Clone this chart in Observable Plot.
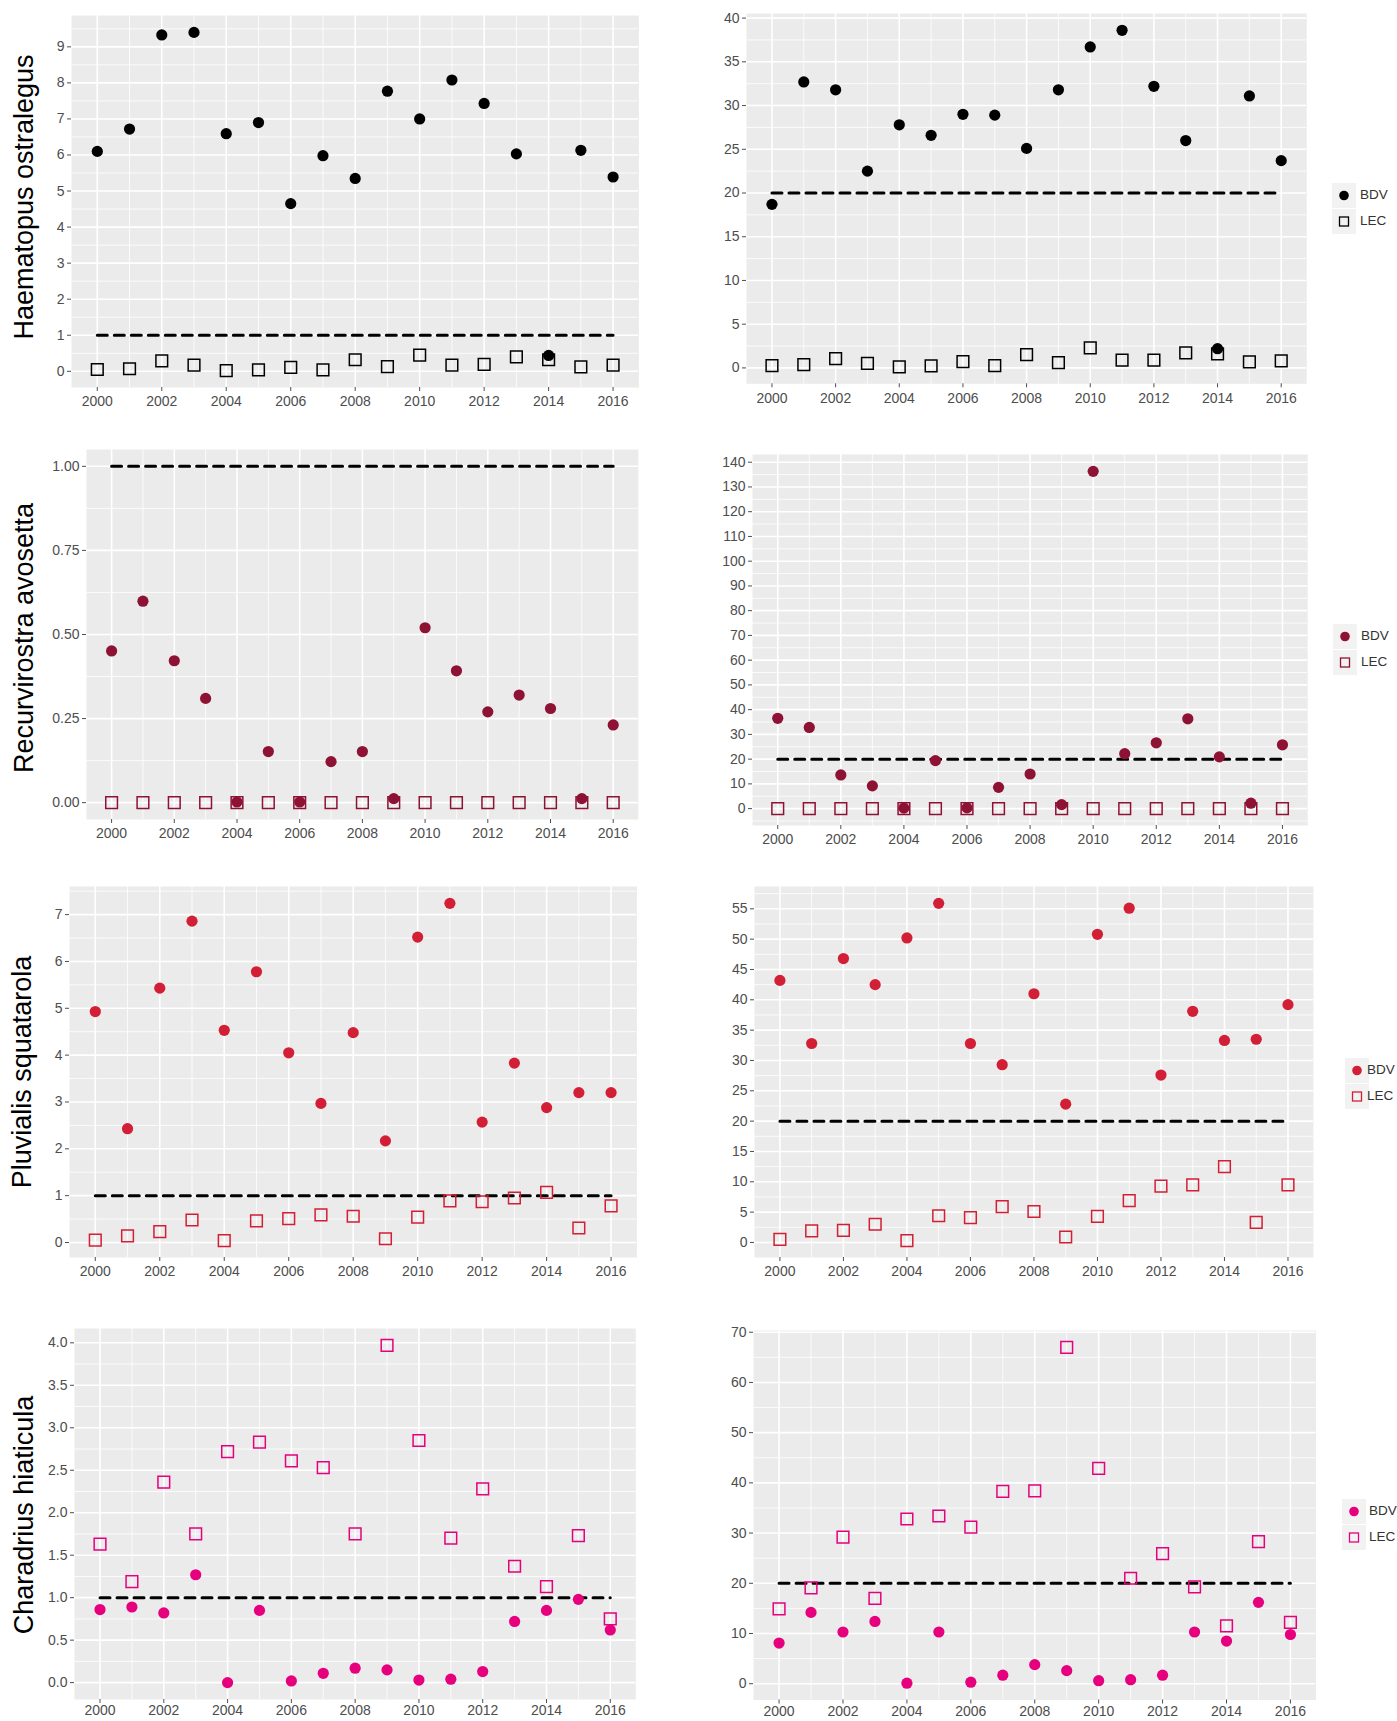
<!DOCTYPE html>
<html><head><meta charset="utf-8">
<script src="https://cdn.jsdelivr.net/npm/d3@7"></script>
<script src="https://cdn.jsdelivr.net/npm/@observablehq/plot@0.6"></script>
<style>
body{margin:0;background:#fff;font-family:"Liberation Sans",Arial,sans-serif;}
#root{position:relative;width:1397px;height:1721px;overflow:hidden;background:#fff;}
.panel{position:absolute;}
.species{position:absolute;transform:translate(-50%,-50%) rotate(-90deg);font-size:27px;color:#000;white-space:nowrap;line-height:1;}
.lgkey{position:absolute;width:24px;height:25px;background:#F2F2F2;}
.lgtext{position:absolute;font-size:13.5px;color:#333;line-height:1;transform:translateY(-50%);}
</style></head><body><div id="root"></div>
<script>
// ---- data ----
const years = [2000,2001,2002,2003,2004,2005,2006,2007,2008,2009,2010,2011,2012,2013,2014,2015,2016];
const xTickYears = [2000,2002,2004,2006,2008,2010,2012,2014,2016];
const species = ["Haematopus ostralegus","Recurvirostra avosetta","Pluvialis squatarola","Charadrius hiaticula"];
const seriesNames = ["BDV","LEC"];
const leftThreshold = 1;
const rightThreshold = 20;

const haematopusBDVLeft  = [6.10,6.72,9.33,9.40,6.59,6.90,4.65,5.98,5.35,7.77,7.00,8.08,7.43,6.03,0.44,6.13,5.39];
const haematopusLECLeft  = [0.05,0.07,0.29,0.17,0.02,0.04,0.11,0.04,0.32,0.13,0.45,0.17,0.19,0.40,0.32,0.12,0.17];
const haematopusBDVRight = [18.7,32.7,31.8,22.5,27.8,26.6,29.0,28.9,25.1,31.8,36.7,38.6,32.2,26.0,2.2,31.1,23.7];
const haematopusLECRight = [0.27,0.38,1.07,0.53,0.11,0.23,0.72,0.27,1.52,0.61,2.29,0.88,0.88,1.71,1.6,0.69,0.80];

const recurvirostraBDVLeft  = [0.451,0.599,0.422,0.310,0.002,0.152,0.002,0.122,0.152,0.012,0.520,0.392,0.270,0.320,0.280,0.012,0.231];
const recurvirostraLECLeft  = [0,0,0,0,0,0,0,0,0,0,0,0,0,0,0,0,0];
const recurvirostraBDVRight = [36.5,32.8,13.6,9.2,0.2,19.4,0.3,8.6,14.0,1.6,136.3,22.2,26.6,36.3,20.9,2.2,25.8];
const recurvirostraLECRight = [0,0,0,0,0,0,0,0,0,0,0,0,0,0,0,0,0];

const pluvialisBDVLeft  = [4.93,2.43,5.43,6.86,4.53,5.78,4.05,2.97,4.48,2.17,6.52,7.24,2.57,3.83,2.88,3.20,3.20];
const pluvialisLECLeft  = [0.05,0.14,0.23,0.48,0.04,0.46,0.51,0.59,0.56,0.08,0.54,0.89,0.87,0.95,1.07,0.31,0.78];
const pluvialisBDVRight = [43.2,32.8,46.8,42.5,50.2,55.9,32.8,29.3,41.0,22.8,50.8,55.1,27.6,38.1,33.3,33.5,39.2];
const pluvialisLECRight = [0.5,1.9,2.0,3.0,0.3,4.4,4.1,5.9,5.1,0.9,4.3,6.9,9.3,9.5,12.5,3.3,9.5];

const charadriusBDVLeft  = [0.86,0.89,0.82,1.27,0.00,0.85,0.02,0.11,0.17,0.15,0.03,0.04,0.13,0.72,0.85,0.98,0.62];
const charadriusLECLeft  = [1.63,1.19,2.36,1.75,2.72,2.83,2.61,2.53,1.75,3.97,2.85,1.70,2.28,1.37,1.13,1.73,0.75];
const charadriusBDVRight = [8.1,14.2,10.3,12.4,0.1,10.3,0.3,1.7,3.8,2.6,0.6,0.8,1.7,10.3,8.5,16.2,9.8];
const charadriusLECRight = [14.9,19.1,29.2,17.0,32.8,33.4,31.2,38.3,38.4,67.0,42.9,21.0,25.9,19.3,11.5,28.3,12.2];

const yTicks1L = [0,1,2,3,4,5,6,7,8,9];
const yTicks1R = [0,5,10,15,20,25,30,35,40];
const yTicks2L = [0,0.25,0.5,0.75,1];
const yTicks2R = [0,10,20,30,40,50,60,70,80,90,100,110,120,130,140];
const yTicks3L = [0,1,2,3,4,5,6,7];
const yTicks3R = [0,5,10,15,20,25,30,35,40,45,50,55];
const yTicks4L = [0,0.5,1,1.5,2,2.5,3,3.5,4];
const yTicks4R = [0,10,20,30,40,50,60,70];

const rowColors = ["#000000","#8E1234","#D31F35","#E6007E"];

// ---- layout ----
const fmtInt = d => String(d);
const panels = [
  {bdv:haematopusBDVLeft, lec:haematopusLECLeft, t:leftThreshold, ticks:yTicks1L, fmt:fmtInt, color:rowColors[0], box:[70.8,638.2,15,387], xpad:5},
  {bdv:haematopusBDVRight, lec:haematopusLECRight, t:rightThreshold, ticks:yTicks1R, fmt:fmtInt, color:rowColors[0], box:[746,1306.2,12.7,383], legend:[1332,195,1360], xpad:5},
  {bdv:recurvirostraBDVLeft, lec:recurvirostraLECLeft, t:leftThreshold, ticks:yTicks2L, fmt:d3.format(".2f"), color:rowColors[1], box:[85.7,637.5,449,819], xpad:5},
  {bdv:recurvirostraBDVRight, lec:recurvirostraLECRight, t:rightThreshold, ticks:yTicks2R, fmt:fmtInt, color:rowColors[1], box:[751.8,1307,454,825], legend:[1333,636,1361], xpad:5},
  {bdv:pluvialisBDVLeft, lec:pluvialisLECLeft, t:leftThreshold, ticks:yTicks3L, fmt:fmtInt, color:rowColors[2], box:[68.6,636,886,1257], xpad:5},
  {bdv:pluvialisBDVRight, lec:pluvialisLECRight, t:rightThreshold, ticks:yTicks3R, fmt:fmtInt, color:rowColors[2], box:[753.8,1312.7,886,1257], legend:[1345,1070,1367], xpad:5},
  {bdv:charadriusBDVLeft, lec:charadriusLECLeft, t:leftThreshold, ticks:yTicks4L, fmt:d3.format(".1f"), color:rowColors[3], box:[74.4,635.7,1328,1699], xpad:2},
  {bdv:charadriusBDVRight, lec:charadriusLECRight, t:rightThreshold, ticks:yTicks4R, fmt:fmtInt, color:rowColors[3], box:[752.5,1315,1330,1699.5], legend:[1342,1511,1369], xpad:2}
];
const labelPos = [[24,197],[24,638],[22,1072],[24,1515]];

const root = document.getElementById("root");

function midpoints(ticks, domain) {
  const step = ticks[1] - ticks[0];
  const out = [];
  for (let i = -1; i < ticks.length; i++) {
    const v = ticks[0] + (i + 0.5) * step;
    if (v > domain[0] && v < domain[1]) out.push(v);
  }
  return out;
}

panels.forEach(p => {
  const ml = 50, mr = 4, mt = 4, mb = 20;
  const [bx0, bx1, by0, by1] = p.box;
  const vals = p.bdv.concat(p.lec, [p.t]);
  const lo = d3.min(vals), hi = d3.max(vals), pad = (hi - lo) * 0.05;
  const yDomain = [lo - pad, hi + pad];
  const xPad = (years[years.length-1] - years[0]) * 0.05;
  const xDomain = [years[0] - xPad, years[years.length-1] + xPad];
  const yMinor = midpoints(p.ticks, yDomain);
  const xMinor = years.filter(y => !xTickYears.includes(y));
  const data = years.map((y, i) => ({year: y, bdv: p.bdv[i], lec: p.lec[i]}));
  const tline = [{year: years[0], v: p.t}, {year: years[years.length-1], v: p.t}];
  const chart = Plot.plot({
    width: bx1 - bx0 + ml + mr,
    height: by1 - by0 + mt + mb,
    marginLeft: ml, marginRight: mr, marginTop: mt, marginBottom: mb,
    x: {domain: xDomain, axis: null, label: null},
    y: {domain: yDomain, axis: null, label: null},
    style: {fontFamily: '"Liberation Sans", Arial, sans-serif', background: "transparent", overflow: "visible"},
    marks: [
      Plot.frame({fill: "#EBEBEB", stroke: "none"}),
      Plot.ruleY(yMinor, {stroke: "#fff", strokeWidth: 0.8}),
      Plot.ruleX(xMinor, {stroke: "#fff", strokeWidth: 0.8}),
      Plot.ruleY(p.ticks, {stroke: "#fff", strokeWidth: 1.6}),
      Plot.ruleX(xTickYears, {stroke: "#fff", strokeWidth: 1.6}),
      Plot.axisY(p.ticks, {tickSize: 4, tickPadding: 3, fontSize: 14, color: "#4D4D4D", tickFormat: p.fmt, label: null}),
      Plot.axisX(xTickYears, {tickSize: 4, tickPadding: p.xpad, fontSize: 14, color: "#4D4D4D", tickFormat: d => String(d), label: null}),
      Plot.line(tline, {x: "year", y: "v", stroke: "#000", strokeWidth: 3, strokeDasharray: "10,7"}),
      Plot.dot(data, {x: "year", y: "bdv", r: 5.6, symbol: "circle", fill: p.color, stroke: "none"}),
      Plot.dot(data, {x: "year", y: "lec", r: 6.6, symbol: "square", fill: "none", stroke: p.color, strokeWidth: 1.5})
    ]
  });
  chart.classList.add("panel");
  chart.style.left = (bx0 - ml) + "px";
  chart.style.top = (by0 - mt) + "px";
  root.appendChild(chart);

  if (p.legend) {
    const [kx, cy, tx] = p.legend;
    seriesNames.forEach((name, i) => {
      const yc = cy + i * 26;
      const key = document.createElement("div");
      key.className = "lgkey";
      key.style.left = kx + "px";
      key.style.top = (yc - 12.5) + "px";
      const sym = i === 0
        ? `<circle cx="12" cy="12.5" r="4.8" fill="${p.color}"/>`
        : `<rect x="7.5" y="8" width="9" height="9" fill="none" stroke="${p.color}" stroke-width="1.3"/>`;
      key.innerHTML = `<svg width="24" height="25">${sym}</svg>`;
      root.appendChild(key);
      const txt = document.createElement("div");
      txt.className = "lgtext";
      txt.style.left = tx + "px";
      txt.style.top = yc + "px";
      txt.textContent = name;
      root.appendChild(txt);
    });
  }
});

species.forEach((s, i) => {
  const d = document.createElement("div");
  d.className = "species";
  d.style.left = labelPos[i][0] + "px";
  d.style.top = labelPos[i][1] + "px";
  d.textContent = s;
  root.appendChild(d);
});
</script></body></html>
